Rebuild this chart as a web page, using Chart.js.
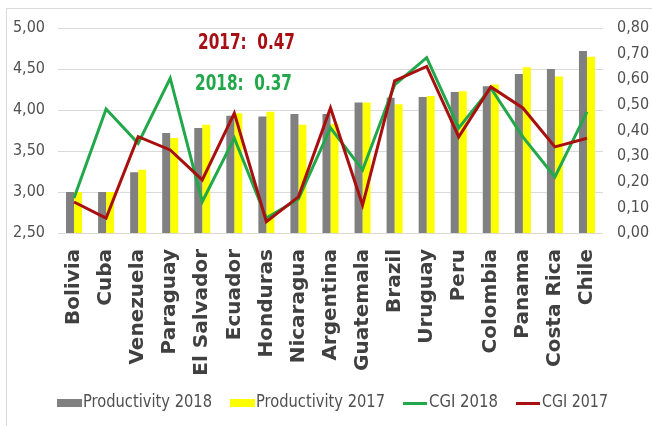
<!DOCTYPE html>
<html>
<head>
<meta charset="utf-8">
<script src="https://cdn.jsdelivr.net/npm/chart.js@4/dist/chart.umd.min.js"></script>
<style>
html,body{margin:0;padding:0;background:#fff;}
#wrap{position:relative;width:652px;height:426px;}
</style>
</head>
<body>
<div id="wrap"><canvas id="c" width="652" height="426"></canvas></div>
<script>
const categories = ['Bolivia','Cuba','Venezuela','Paraguay','El Salvador','Ecuador','Honduras','Nicaragua','Argentina','Guatemala','Brazil','Uruguay','Peru','Colombia','Panama','Costa Rica','Chile'];
const productivity2018 = [3.00,3.00,3.24,3.72,3.78,3.93,3.92,3.95,3.95,4.09,4.15,4.16,4.22,4.29,4.44,4.50,4.72];
const productivity2017 = [3.00,3.00,3.27,3.66,3.82,3.96,3.98,3.82,3.83,4.09,4.07,4.17,4.23,4.31,4.52,4.41,4.65];
const cgi2018 = [0.137,0.484,0.350,0.604,0.122,0.370,0.058,0.133,0.410,0.246,0.578,0.684,0.410,0.566,0.375,0.219,0.473];
const cgi2017 = [0.121,0.058,0.376,0.324,0.207,0.468,0.044,0.141,0.488,0.109,0.594,0.650,0.375,0.570,0.488,0.336,0.370];
const leftTicks = [2.5,3.0,3.5,4.0,4.5,5.0];
const rightTicks = [0,0.1,0.2,0.3,0.4,0.5,0.6,0.7,0.8];
const annotations = [
  {text:'2017:  0.47', color:'#A80F14'},
  {text:'2018:  0.37', color:'#22A84A'}
];

const COND = "'DejaVu Sans Condensed','DejaVu Sans',sans-serif";
const GRAY = '#808080', YELLOW = '#FFFF00', GREEN = '#22A84A', RED = '#A80F0F';
const TEXT = '#505050';

const fmt = v => Number(v).toFixed(2).replace('.', ',');

function fitText(ctx, text, x, y, width) {
  const w = ctx.measureText(text).width;
  ctx.save();
  ctx.translate(x, y);
  ctx.scale(width / w, 1);
  ctx.fillText(text, 0, 0);
  ctx.restore();
}

const extras = {
  id: 'extras',
  beforeDraw(chart) {
    const ctx = chart.ctx;
    ctx.save();
    ctx.strokeStyle = '#d9d9d9';
    ctx.lineWidth = 1;
    ctx.beginPath();
    ctx.moveTo(6.5, 426);
    ctx.lineTo(6.5, 8.5);
    ctx.lineTo(652, 8.5);
    ctx.stroke();
    ctx.restore();
  },
  afterDraw(chart) {
    const ctx = chart.ctx;
    ctx.save();
    ctx.textBaseline = 'middle';
    ctx.textAlign = 'left';
    ctx.font = "bold 21px " + COND;
    ctx.fillStyle = annotations[0].color;
    fitText(ctx, annotations[0].text, 198, 44, 97);
    ctx.fillStyle = annotations[1].color;
    fitText(ctx, annotations[1].text, 195, 85, 97);
    // legend
    const ds = chart.data.datasets;
    const items = [
      {ds: ds[2], kind: 'box', x: 57, tw: 129},
      {ds: ds[3], kind: 'box', x: 230, tw: 129},
      {ds: ds[1], kind: 'line', x: 403, tw: 69},
      {ds: ds[0], kind: 'line', x: 516, tw: 66}
    ];
    const y = 403;
    ctx.font = "17px " + COND;
    items.forEach(it => {
      if (it.kind === 'box') {
        ctx.fillStyle = it.ds.backgroundColor;
        ctx.fillRect(it.x, y - 4, 25, 8);
      } else {
        ctx.strokeStyle = it.ds.borderColor;
        ctx.lineWidth = 3;
        ctx.beginPath();
        ctx.moveTo(it.x, y + 0.5);
        ctx.lineTo(it.x + 24, y + 0.5);
        ctx.stroke();
      }
      ctx.fillStyle = TEXT;
      fitText(ctx, it.ds.label, it.x + 26, y, it.tw);
    });
    ctx.restore();
  }
};

new Chart(document.getElementById('c'), {
  type: 'bar',
  data: {
    labels: categories,
    datasets: [
      {type:'line', label:'CGI 2017', data: cgi2017, yAxisID:'y1', borderColor: RED, backgroundColor: RED, borderWidth: 3, pointRadius: 0, tension: 0, order: 0},
      {type:'line', label:'CGI 2018', data: cgi2018, yAxisID:'y1', borderColor: GREEN, backgroundColor: GREEN, borderWidth: 3, pointRadius: 0, tension: 0, order: 1},
      {type:'bar', label:'Productivity 2018', data: productivity2018, yAxisID:'y', backgroundColor: GRAY, categoryPercentage: 0.5, barPercentage: 1, order: 2},
      {type:'bar', label:'Productivity 2017', data: productivity2017, yAxisID:'y', backgroundColor: YELLOW, categoryPercentage: 0.5, barPercentage: 1, order: 2}
    ]
  },
  options: {
    responsive: false,
    animation: false,
    layout: {padding: {top: 28, left: 0, right: 0, bottom: 0}},
    plugins: {legend: {display: false}, tooltip: {enabled: false}},
    scales: {
      x: {
        grid: {display: false, drawTicks: false},
        border: {display: false},
        ticks: {
          autoSkip: false, maxRotation: 90, minRotation: 90, padding: 16,
          color: '#404040',
          font: {family: "'DejaVu Sans',sans-serif", weight: 'bold', size: 20}
        },
        afterFit(s) { s.height = 426 - 233; }
      },
      y: {
        position: 'left', min: 2.5, max: 5,
        afterBuildTicks(s) { s.ticks = leftTicks.map(v => ({value: v})); },
        grid: {color: '#d9d9d9', drawTicks: false, lineWidth: 1},
        border: {display: false},
        ticks: {padding: 13, color: TEXT, font: {family: COND, size: 16}, callback: v => fmt(v)},
        afterFit(s) { s.width = 58; }
      },
      y1: {
        position: 'right', min: 0, max: 0.8,
        afterBuildTicks(s) { s.ticks = rightTicks.map(v => ({value: v})); },
        grid: {display: false, drawTicks: false},
        border: {display: false},
        ticks: {padding: 14, color: TEXT, font: {family: COND, size: 16}, callback: v => fmt(v)},
        afterFit(s) { s.width = 49; }
      }
    }
  },
  plugins: [extras]
});
</script>
</body>
</html>
